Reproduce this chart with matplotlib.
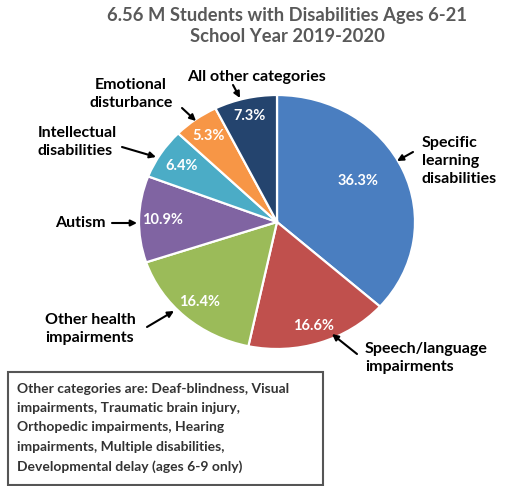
import numpy as np
import matplotlib
matplotlib.use('Agg')
import matplotlib.pyplot as plt
from matplotlib.patches import Rectangle
from matplotlib.text import Annotation

plt.rcParams['font.family'] = ['Lato', 'DejaVu Sans']

W, H = 506, 486

# ── data ──────────────────────────────────────────────────────────────────────
categories = ['Specific learning disabilities', 'Speech/language impairments',
              'Other health impairments', 'Autism', 'Intellectual disabilities',
              'Emotional disturbance', 'All other categories']
shares = [36.3, 16.6, 16.4, 10.9, 6.4, 5.3, 7.3]
colors = ['#4A7EC0', '#C0504D', '#9BBB59', '#8064A2', '#4BACC6', '#F79646', '#24446E']

# label text, x, block centre y (pixels from top), alignment, arrow tail, arrow tip
outer = [
    ('Specific\nlearning\ndisabilities', 422, 161, 'left', (413, 152), (397, 161)),
    ('Speech/language\nimpairments', 365, 358, 'left', (357, 354), (332, 334)),
    ('Other health\nimpairments', 45, 329, 'left', (147, 327), (174, 311)),
    ('Autism', 55, 223, 'left', (112, 223), (137, 223)),
    ('Intellectual\ndisabilities', 38, 142, 'left', (122, 147), (156, 157)),
    ('Emotional\ndisturbance', 131, 94, 'center', (182, 108), (196, 121)),
    ('All other categories', 256, 77, 'center', (233, 85), (240, 98)),
]
pct_radius = [0.67, 0.86, 0.84, 0.83, 0.82, 0.84, 0.86]

note = ('Other categories are: Deaf-blindness, Visual\n'
        'impairments, Traumatic brain injury,\n'
        'Orthopedic impairments, Hearing\n'
        'impairments, Multiple disabilities,\n'
        'Developmental delay (ages 6-9 only)')


def fx(x):
    return x / W


def fy(y):
    return 1 - y / H


fig = plt.figure(figsize=(W / 100, H / 100), dpi=100)

# pie axes: centre (277, 222), radius 138 px across, 127 px down
cx, cy, rx, ry = 277, 222, 138, 127
ax = fig.add_axes([fx(cx - rx), fy(cy + ry), 2 * rx / W, 2 * ry / H])
wedges, _ = ax.pie(shares, colors=colors, startangle=90, counterclock=False,
                   wedgeprops=dict(edgecolor='white', linewidth=1.6))
ax.set_aspect('auto')
ax.set_xlim(-1, 1)
ax.set_ylim(-1, 1)

for w, val, r in zip(wedges, shares, pct_radius):
    ang = np.deg2rad((w.theta1 + w.theta2) / 2)
    if val > 30:
        ang += np.deg2rad(5)
    ax.text(r * np.cos(ang), r * np.sin(ang), f'{val}%', ha='center', va='center',
            color='white', fontsize=10.5, fontweight='bold')

fig.text(fx(287), fy(26), '6.56 M Students with Disabilities Ages 6-21\nSchool Year 2019-2020',
         ha='center', va='center', fontsize=13.2, fontweight='bold', color='#595959',
         linespacing=1.3)

for text, x, y, ha, tail, tip in outer:
    fig.text(fx(x), fy(y), text, ha=ha, va='center', fontsize=11.5, fontweight='bold',
             color='black', linespacing=1.4)
    fig.add_artist(Annotation(
        '', xy=(fx(tip[0]), fy(tip[1])), xytext=(fx(tail[0]), fy(tail[1])),
        xycoords='figure fraction', textcoords='figure fraction',
        arrowprops=dict(arrowstyle='-|>', color='black', lw=1.5, mutation_scale=9,
                        shrinkA=0, shrinkB=0)))

fig.add_artist(Rectangle((fx(8), fy(485)), fx(323) - fx(8), fy(372) - fy(485),
                         transform=fig.transFigure, facecolor='white',
                         edgecolor='#555555', linewidth=1.5))
fig.text(fx(17), fy(428), note, ha='left', va='center', fontsize=10, fontweight='bold',
         color='#333333', linespacing=1.72)

fig.savefig('out.png', dpi=100)
